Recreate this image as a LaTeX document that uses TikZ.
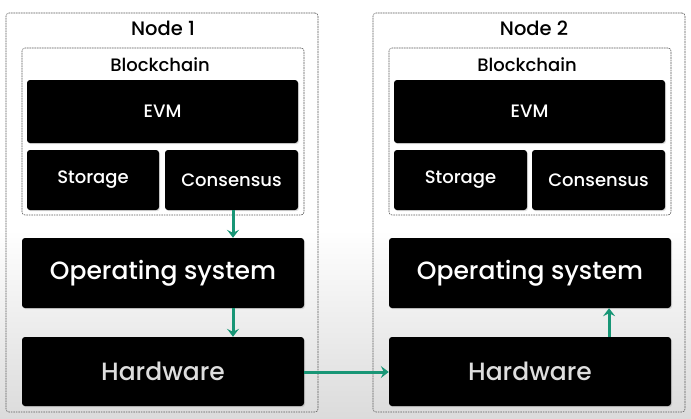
\documentclass[tikz,border=0pt]{standalone}
\usepackage{fontspec}
\setmainfont{Poppins}[UprightFont=* Medium]
\usetikzlibrary{positioning,arrows.meta,calc,shadows}
\definecolor{linkgreen}{RGB}{24,150,118}
\begin{document}
\begin{tikzpicture}[
  x=1pt, y=-1pt,
  frame/.style={draw=black!65, dash pattern=on 1.6pt off 0.9pt, line width=0.6pt, rounded corners=3pt, inner sep=0pt},
  blk/.style={fill=black, rounded corners=3pt, text=white, inner sep=0pt,
    drop shadow={opacity=0.25, shadow xshift=1pt, shadow yshift=-1.2pt}},
  small/.style={blk, font=\fontsize{18}{22}\selectfont},
  big/.style={blk, font=\fontsize{25}{30}\selectfont},
  title/.style={font=\fontsize{19.5}{24}\selectfont, inner sep=0pt},
  ar/.style={-{Stealth[length=8pt, width=12pt, inset=3pt]}, linkgreen, line width=3pt},
]
% --- background ---
\fill[white] (0,0) rectangle (691,230);
\shade[top color=white, bottom color=black!14] (0,229.5) rectangle (691,418);
\useasboundingbox (0,0) rectangle (691,418);
% --- node 1 ---
\node[frame, minimum width=312, minimum height=399] (n1) at (162,212.5) {};
\node[frame, fill=white, minimum width=282, minimum height=167] (bc1) at (163,131.5) {};
\node[title] (n1t) at (163,28) {Node 1};
\node[title, font=\fontsize{18}{22}\selectfont] (bc1t) at (160,65) {Blockchain};
\node[small, minimum width=271, minimum height=63] (evm1) at (162.5,111.5) {EVM};
\node[small, minimum width=132, minimum height=60] (sto1) at (93,180) {Storage};
\node[small, minimum width=133, minimum height=60] (con1) at (231.5,180) {Consensus};
\node[big, minimum width=282, minimum height=70] (os1) at (163,273) {Operating system};
\node[big, text=black!13, minimum width=282, minimum height=69] (hw1) at (163,371.5) {Hardware};
% --- node 2 ---
\node[frame, minimum width=312, minimum height=399] (n2) at (529,212.5) {};
\node[frame, fill=white, minimum width=282, minimum height=167] (bc2) at (530,131.5) {};
\node[title] (n2t) at (534,28) {Node 2};
\node[title, font=\fontsize{18}{22}\selectfont] (bc2t) at (527,65) {Blockchain};
\node[small, minimum width=271, minimum height=63] (evm2) at (529.5,111.5) {EVM};
\node[small, minimum width=133, minimum height=60] (sto2) at (460.5,180) {Storage};
\node[small, minimum width=133, minimum height=60] (con2) at (598.5,180) {Consensus};
\node[big, minimum width=282, minimum height=70] (os2) at (530,273) {Operating system};
\node[big, text=black!13, minimum width=282, minimum height=69] (hw2) at (530,371.5) {Hardware};
% --- links ---
\draw[ar] ([xshift=1.5pt]con1.south) -- ([xshift=1.5pt]os1.north -| con1.south);
\draw[ar] ([xshift=1.5pt]os1.south -| con1.south) -- ([xshift=1.5pt]hw1.north -| con1.south);
\draw[ar] ([yshift=-0.5pt]hw1.east) -- ([yshift=-0.5pt]hw2.west);
\draw[ar] ($(hw2.north east)!0.22!(hw2.north west)$) -- ($(os2.south east)!0.22!(os2.south west)$);
\end{tikzpicture}
\end{document}
